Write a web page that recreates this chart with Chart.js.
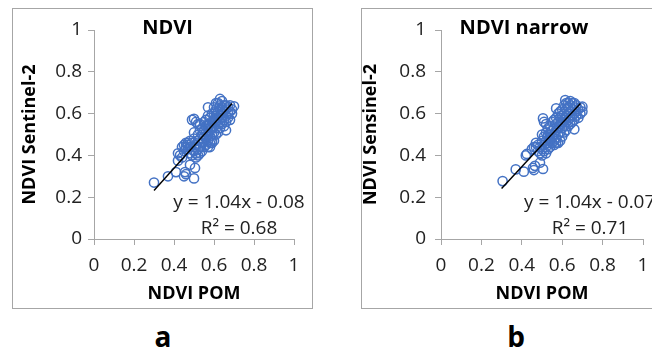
<!DOCTYPE html>
<html>
<head>
<meta charset="utf-8">
<script src="https://cdn.jsdelivr.net/npm/chart.js@4/dist/chart.umd.min.js"></script>
<style>
  html, body { margin: 0; padding: 0; background: #fff; }
  body { width: 652px; height: 347px; overflow: hidden; position: relative; font-family: "Open Sans", sans-serif; }
  .panel { position: absolute; top: 8px; width: 301px; height: 301px; box-sizing: border-box; border: 1px solid #a6a6a6; background: #fff; }
  .panel canvas { position: absolute; left: 0; top: 0; width: 299px; height: 299px; }
  .tag { position: absolute; font: bold 28px "Open Sans", sans-serif; color: #000; transform: translate(-50%, -50%); line-height: 1; }
</style>
</head>
<body>
<div class="panel" style="left:12px"><canvas id="chartA" width="299" height="299"></canvas></div>
<div class="panel" style="left:361px"><canvas id="chartB" width="299" height="299"></canvas></div>
<div class="tag" style="left:163px;top:336px">a</div>
<div class="tag" style="left:516px;top:336px">b</div>
<script>
// ejes comunes
const xTicks = [0, 0.2, 0.4, 0.6, 0.8, 1];
const yTicks = [0, 0.2, 0.4, 0.6, 0.8, 1];

// Panel a: NDVI POM vs NDVI Sentinel-2
const pointsA = [
  [0.30, 0.27], [0.37, 0.30], [0.41, 0.32], [0.45, 0.30], [0.46, 0.31], [0.455, 0.32],
  [0.50, 0.29], [0.48, 0.355], [0.505, 0.34], [0.42, 0.375], [0.42, 0.41], [0.44, 0.39],
  [0.43, 0.40], [0.45, 0.42], [0.46, 0.44], [0.46, 0.46], [0.47, 0.45], [0.47, 0.43],
  [0.48, 0.41], [0.48, 0.44], [0.49, 0.40], [0.49, 0.46], [0.50, 0.51], [0.50, 0.48],
  [0.50, 0.44], [0.50, 0.42], [0.51, 0.39], [0.51, 0.41], [0.51, 0.45], [0.52, 0.40],
  [0.52, 0.43], [0.52, 0.47], [0.52, 0.50], [0.53, 0.41], [0.53, 0.44], [0.53, 0.48],
  [0.53, 0.52], [0.53, 0.55], [0.54, 0.42], [0.54, 0.46], [0.54, 0.50], [0.54, 0.53],
  [0.55, 0.44], [0.55, 0.47], [0.55, 0.49], [0.55, 0.52], [0.55, 0.56], [0.56, 0.45],
  [0.56, 0.48], [0.56, 0.51], [0.56, 0.54], [0.56, 0.57], [0.57, 0.47], [0.57, 0.50],
  [0.57, 0.53], [0.57, 0.55], [0.57, 0.59], [0.57, 0.63], [0.58, 0.44], [0.58, 0.49],
  [0.58, 0.52], [0.58, 0.55], [0.58, 0.58], [0.59, 0.46], [0.59, 0.50], [0.59, 0.53],
  [0.59, 0.56], [0.59, 0.60], [0.60, 0.47], [0.60, 0.51], [0.60, 0.54], [0.60, 0.57],
  [0.60, 0.60], [0.60, 0.63], [0.61, 0.50], [0.61, 0.53], [0.61, 0.56], [0.61, 0.59],
  [0.61, 0.62], [0.62, 0.51], [0.62, 0.55], [0.62, 0.58], [0.62, 0.61], [0.62, 0.65],
  [0.63, 0.67], [0.63, 0.53], [0.63, 0.56], [0.63, 0.59], [0.63, 0.62], [0.63, 0.64],
  [0.64, 0.55], [0.64, 0.58], [0.64, 0.60], [0.64, 0.63], [0.64, 0.66], [0.65, 0.54],
  [0.65, 0.57], [0.65, 0.61], [0.65, 0.64], [0.66, 0.52], [0.66, 0.56], [0.66, 0.59],
  [0.66, 0.62], [0.67, 0.58], [0.67, 0.60], [0.67, 0.63], [0.68, 0.57], [0.68, 0.61],
  [0.69, 0.60], [0.69, 0.62], [0.70, 0.635], [0.49, 0.57], [0.50, 0.575], [0.51, 0.56],
  [0.52, 0.55], [0.47, 0.46], [0.48, 0.47], [0.44, 0.44], [0.45, 0.45], [0.58, 0.46],
  [0.59, 0.47], [0.57, 0.44], [0.61, 0.65], [0.66, 0.64], [0.68, 0.64]
];
const trendA = [[0.30, 0.232], [0.69, 0.648]];

// Panel b: NDVI narrow
const pointsB = [
  [0.305, 0.277], [0.37, 0.333], [0.41, 0.322], [0.42, 0.40], [0.425, 0.407], [0.455, 0.34],
  [0.46, 0.33], [0.465, 0.35], [0.49, 0.365], [0.505, 0.335], [0.45, 0.43], [0.46, 0.44],
  [0.47, 0.44], [0.48, 0.42], [0.48, 0.45], [0.49, 0.41], [0.49, 0.44], [0.50, 0.40],
  [0.50, 0.43], [0.50, 0.47], [0.50, 0.50], [0.505, 0.577], [0.51, 0.56], [0.51, 0.42],
  [0.51, 0.45], [0.51, 0.49], [0.52, 0.41], [0.52, 0.44], [0.52, 0.47], [0.52, 0.51],
  [0.52, 0.55], [0.53, 0.43], [0.53, 0.46], [0.53, 0.49], [0.53, 0.53], [0.54, 0.44],
  [0.54, 0.47], [0.54, 0.50], [0.54, 0.54], [0.55, 0.46], [0.55, 0.49], [0.55, 0.52],
  [0.55, 0.56], [0.56, 0.47], [0.56, 0.50], [0.56, 0.53], [0.56, 0.57], [0.57, 0.48],
  [0.57, 0.52], [0.57, 0.55], [0.57, 0.58], [0.57, 0.625], [0.58, 0.46], [0.58, 0.50],
  [0.58, 0.53], [0.58, 0.56], [0.58, 0.60], [0.59, 0.47], [0.59, 0.51], [0.59, 0.55],
  [0.59, 0.58], [0.59, 0.61], [0.60, 0.49], [0.60, 0.53], [0.60, 0.56], [0.60, 0.59],
  [0.60, 0.62], [0.61, 0.51], [0.61, 0.54], [0.61, 0.57], [0.61, 0.60], [0.61, 0.64],
  [0.615, 0.665], [0.62, 0.52], [0.62, 0.56], [0.62, 0.59], [0.62, 0.62], [0.62, 0.65],
  [0.63, 0.54], [0.63, 0.57], [0.63, 0.60], [0.63, 0.63], [0.64, 0.55], [0.64, 0.58],
  [0.64, 0.61], [0.64, 0.64], [0.65, 0.56], [0.65, 0.59], [0.65, 0.62], [0.65, 0.65],
  [0.66, 0.525], [0.66, 0.57], [0.66, 0.60], [0.66, 0.63], [0.67, 0.59], [0.67, 0.61],
  [0.67, 0.64], [0.68, 0.58], [0.68, 0.62], [0.69, 0.60], [0.69, 0.63], [0.70, 0.633],
  [0.70, 0.61], [0.47, 0.46], [0.53, 0.50], [0.56, 0.45], [0.57, 0.46], [0.63, 0.65],
  [0.64, 0.66], [0.66, 0.65]
];
const trendB = [[0.30, 0.242], [0.69, 0.648]];

const BLUE = "#4472C4";
const AXIS = "#a6a6a6";
const FONT = "'Open Sans', sans-serif";

// textos sueltos (titulo y ecuacion) dibujados encima
const notes = {
  id: "notes",
  afterDraw(chart, args, opts) {
    const ctx = chart.ctx;
    ctx.save();
    ctx.textBaseline = "middle";
    (opts.items || []).forEach((t) => {
      ctx.font = t.font;
      ctx.fillStyle = t.color || "#000";
      ctx.textAlign = t.align || "center";
      ctx.fillText(t.text, t.x, t.y);
    });
    ctx.restore();
  },
};

function panel(el, cfg) {
  const toXY = (arr) => arr.map(([x, y]) => ({ x, y }));
  return new Chart(el, {
    type: "scatter",
    data: {
      datasets: [
        {
          data: toXY(cfg.points),
          borderColor: BLUE,
          backgroundColor: "rgba(0,0,0,0)",
          pointRadius: 4.6,
          pointHoverRadius: 4.6,
          pointBorderWidth: 1.5,
          order: 1,
        },
        {
          // linea de tendencia encima de los puntos
          data: toXY(cfg.trend),
          showLine: true,
          borderColor: "#000",
          borderWidth: 1.4,
          pointRadius: 0,
          order: 0,
        },
      ],
    },
    options: {
      responsive: false,
      animation: false,
      events: [],
      layout: { padding: { left: 0, right: 18, top: 21, bottom: 0 } },
      plugins: {
        legend: { display: false },
        tooltip: { enabled: false },
        notes: { items: cfg.notes },
      },
      scales: {
        x: {
          type: "linear",
          min: 0,
          max: 1,
          afterBuildTicks: (s) => { s.ticks = xTicks.map((v) => ({ value: v })); },
          afterFit: (s) => { s.height = 69; },
          ticks: { font: { family: FONT, size: 19 }, color: "#222", padding: 9, maxRotation: 0, autoSkip: false, callback: (v) => String(v) },
          grid: { drawOnChartArea: false, tickLength: 6, color: AXIS },
          border: { color: AXIS },
          title: {
            display: true,
            text: "NDVI POM",
            color: "#000",
            font: { family: FONT, size: 18, weight: "bold" },
            padding: { top: 0, bottom: 3 },
          },
        },
        y: {
          type: "linear",
          min: 0,
          max: 1,
          afterBuildTicks: (s) => { s.ticks = yTicks.map((v) => ({ value: v })); },
          afterFit: (s) => { s.width = cfg.yWidth; },
          ticks: { font: { family: FONT, size: 19 }, color: "#222", padding: cfg.yPad, callback: (v) => String(v) },
          grid: { drawOnChartArea: false, tickLength: 6, color: AXIS },
          border: { color: AXIS },
          title: {
            display: true,
            text: cfg.yTitle,
            color: "#000",
            font: { family: FONT, size: 18, weight: "bold", lineHeight: cfg.yTitleLH },
            padding: { top: cfg.yTitlePad, bottom: 0 },
          },
        },
      },
    },
    plugins: [notes],
  });
}

panel(document.getElementById("chartA"), {
  points: pointsA,
  trend: trendA,
  yTitle: "NDVI Sentinel-2",
  yWidth: 81,
  yPad: 6,
  yTitleLH: 1.2,
  yTitlePad: 6,
  notes: [
    { text: "NDVI", x: 154.5, y: 19, font: "bold 20px " + FONT },
    { text: "y = 1.04x - 0.08", x: 226, y: 194, font: "19px " + FONT, color: "#222" },
    { text: "R² = 0.68", x: 226, y: 220, font: "19px " + FONT, color: "#222" },
  ],
});

panel(document.getElementById("chartB"), {
  points: pointsB,
  trend: trendB,
  yTitle: "NDVI Sensinel-2",
  yWidth: 79,
  yPad: 9,
  yTitleLH: 1,
  yTitlePad: 0,
  notes: [
    { text: "NDVI narrow", x: 162, y: 19, font: "bold 20px " + FONT },
    { text: "y = 1.04x - 0.07", x: 162, y: 194, font: "19px " + FONT, color: "#222", align: "left" },
    { text: "R² = 0.71", x: 228, y: 220, font: "19px " + FONT, color: "#222" },
  ],
});
</script>
</body>
</html>
